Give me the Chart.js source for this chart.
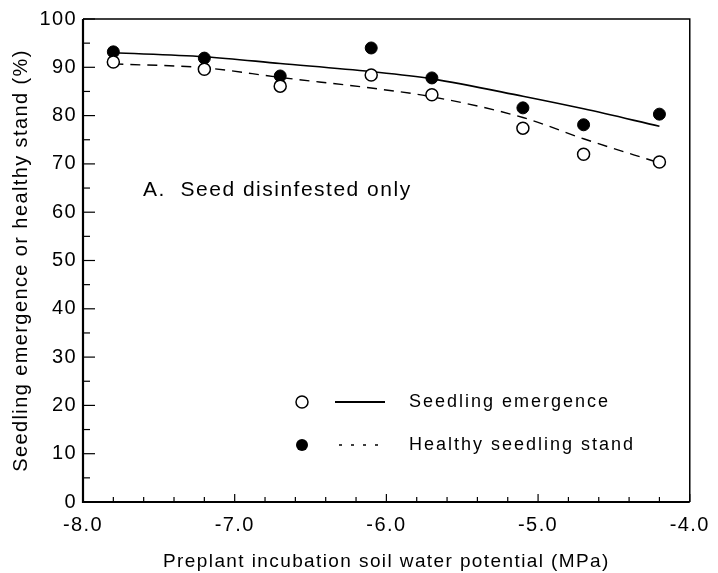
<!DOCTYPE html>
<html>
<head>
<meta charset="utf-8">
<script src="https://cdn.jsdelivr.net/npm/chart.js@4/dist/chart.umd.min.js"></script>
<style>
  html, body { margin: 0; padding: 0; background: #fff; }
  #wrap { width: 718px; height: 573px; }
</style>
</head>
<body>
<div id="wrap"><canvas id="chart" width="718" height="573"></canvas></div>
<script>
// water potential (MPa) at each sampling point
const potentials = [-7.8, -7.2, -6.7, -6.1, -5.7, -5.1, -4.7, -4.2];
// open circles
const emergencePts = [91.1, 89.6, 86.1, 88.4, 84.3, 77.4, 72.0, 70.4];
// filled circles
const healthyPts = [93.2, 91.9, 88.2, 94.0, 87.8, 81.6, 78.1, 80.3];
// fitted curves as drawn
const solidCurve = [93.0, 92.2, 90.8, 89.1, 87.6, 84.0, 81.4, 77.8];
const dashedCurve = [90.7, 89.9, 87.9, 85.7, 83.9, 79.6, 75.2, 70.2];

const xTicks = [-8, -7, -6, -5, -4];
const yTicks = [0, 10, 20, 30, 40, 50, 60, 70, 80, 90, 100];

const panelLabel = 'A.  Seed disinfested only';
const legendItems = ['Seedling emergence', 'Healthy seedling stand'];

const FONT = '"Liberation Sans", Arial, Helvetica, sans-serif';

function pairs(ys) {
  return potentials.map((x, i) => ({ x: x, y: ys[i] }));
}

// the scanned lettering is a bit wider than Liberation Sans
const spacing = {
  id: 'spacing',
  beforeDraw(chart) {
    chart.ctx.letterSpacing = '1.4px';
  }
};

// box, inward ticks, panel label and legend
const decorations = {
  id: 'decorations',
  afterDraw(chart) {
    const ctx = chart.ctx;
    const a = chart.chartArea;
    const xs = chart.scales.x;
    const ys = chart.scales.y;
    ctx.save();
    ctx.strokeStyle = '#000';
    ctx.lineCap = 'butt';

    // frame
    ctx.lineWidth = 1.5;
    ctx.beginPath();
    ctx.moveTo(a.left, a.top);
    ctx.lineTo(a.right, a.top);
    ctx.lineTo(a.right, a.bottom);
    ctx.stroke();
    ctx.lineWidth = 2.2;
    ctx.beginPath();
    ctx.moveTo(a.left, a.top);
    ctx.lineTo(a.left, a.bottom);
    ctx.lineTo(a.right, a.bottom);
    ctx.stroke();

    // x ticks every 0.2, major on whole units
    ctx.lineWidth = 1.2;
    for (let i = 0; i <= 20; i++) {
      const v = -8 + i * 0.2;
      const px = xs.getPixelForValue(v);
      const len = (i % 5 === 0) ? 8 : 5;
      ctx.beginPath();
      ctx.moveTo(px, a.bottom);
      ctx.lineTo(px, a.bottom - len);
      ctx.stroke();
    }
    // y ticks every 5, major on tens
    for (let v = 0; v <= 100; v += 5) {
      const py = ys.getPixelForValue(v);
      const len = (v % 10 === 0) ? 12 : 7;
      ctx.beginPath();
      ctx.moveTo(a.left, py);
      ctx.lineTo(a.left + len, py);
      ctx.stroke();
    }

    ctx.fillStyle = '#000';
    ctx.textBaseline = 'middle';
    ctx.textAlign = 'left';
    ctx.letterSpacing = '1.5px';
    ctx.font = '21px ' + FONT;
    ctx.fillText(panelLabel, 143, 190);

    // legend
    const rows = [402, 445];
    ctx.lineWidth = 1.5;
    ctx.beginPath();
    ctx.arc(302, rows[0], 6, 0, Math.PI * 2);
    ctx.fillStyle = '#fff';
    ctx.fill();
    ctx.stroke();
    ctx.beginPath();
    ctx.arc(302, rows[1], 6, 0, Math.PI * 2);
    ctx.fillStyle = '#000';
    ctx.fill();

    ctx.lineWidth = 1.8;
    ctx.beginPath();
    ctx.moveTo(335, rows[0]);
    ctx.lineTo(385, rows[0]);
    ctx.stroke();
    ctx.lineWidth = 1.5;
    ctx.setLineDash([3, 9]);
    ctx.beginPath();
    ctx.moveTo(339, rows[1]);
    ctx.lineTo(387, rows[1]);
    ctx.stroke();
    ctx.setLineDash([]);

    ctx.fillStyle = '#000';
    ctx.letterSpacing = '2px';
    ctx.font = '18px ' + FONT;
    ctx.fillText(legendItems[0], 409, rows[0]);
    ctx.fillText(legendItems[1], 409, rows[1]);
    ctx.restore();
  }
};

const ctx = document.getElementById('chart').getContext('2d');

const chart = new Chart(ctx, {
  type: 'scatter',
  data: {
    datasets: [
      {
        label: 'solid fit',
        data: pairs(solidCurve),
        showLine: true,
        borderColor: '#000',
        borderWidth: 1.6,
        pointRadius: 0,
        cubicInterpolationMode: 'monotone',
        order: 3
      },
      {
        label: 'dashed fit',
        data: pairs(dashedCurve),
        showLine: true,
        borderColor: '#000',
        borderWidth: 1.4,
        borderDash: [10, 7],
        pointRadius: 0,
        cubicInterpolationMode: 'monotone',
        order: 4
      },
      {
        label: legendItems[1],
        data: pairs(healthyPts),
        pointRadius: 6,
        pointBackgroundColor: '#000',
        pointBorderColor: '#000',
        pointBorderWidth: 1,
        order: 2
      },
      {
        label: legendItems[0],
        data: pairs(emergencePts),
        pointRadius: 6,
        pointBackgroundColor: '#fff',
        pointBorderColor: '#000',
        pointBorderWidth: 1.5,
        order: 1
      }
    ]
  },
  options: {
    responsive: false,
    animation: false,
    layout: { padding: { top: 19, right: 22, left: 0, bottom: 0 } },
    plugins: {
      legend: { display: false },
      tooltip: { enabled: false }
    },
    scales: {
      x: {
        type: 'linear',
        min: -8,
        max: -4,
        afterBuildTicks: s => { s.ticks = xTicks.map(v => ({ value: v })); },
        afterFit: s => { s.height = 71; },
        grid: { display: false, drawTicks: false },
        border: { display: false },
        ticks: {
          color: '#000',
          font: { family: FONT, size: 20 },
          padding: 11,
          maxRotation: 0,
          callback: v => v.toFixed(1)
        },
        title: {
          display: true,
          text: 'Preplant incubation soil water potential (MPa)',
          color: '#000',
          font: { family: FONT, size: 19 },
          padding: { top: 9, bottom: 0 }
        }
      },
      y: {
        min: 0,
        max: 100,
        afterBuildTicks: s => { s.ticks = yTicks.map(v => ({ value: v })); },
        afterFit: s => { s.width = 83; },
        grid: { display: false, drawTicks: false },
        border: { display: false },
        ticks: {
          color: '#000',
          font: { family: FONT, size: 20 },
          padding: 6
        },
        title: {
          display: true,
          text: 'Seedling emergence or healthy stand (%)',
          color: '#000',
          font: { family: FONT, size: 20 },
          padding: { top: 9, bottom: 0 }
        }
      }
    }
  },
  plugins: [spacing, decorations]
});
</script>
</body>
</html>
